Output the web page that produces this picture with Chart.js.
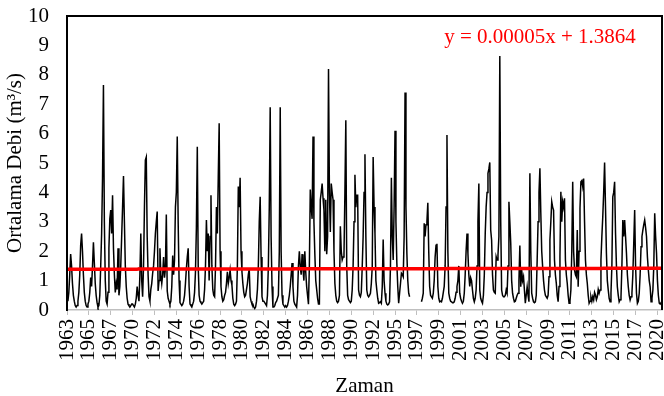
<!DOCTYPE html>
<html><head><meta charset="utf-8">
<script src="https://cdn.jsdelivr.net/npm/chart.js@4/dist/chart.umd.min.js"></script>
<style>html,body{margin:0;padding:0;background:#fff;}canvas{display:block;}</style>
</head><body>
<canvas id="c" width="664" height="396" style="width:664px;height:396px"></canvas>
<script>
// Tick labels (one every 24 data points)
const tickYears = ['1963','1965','1967','1970','1972','1974','1976','1978','1980','1982','1984','1986','1988','1990','1992','1995','1997','1999','2001','2003','2005','2007','2009','2011','2013','2015','2017','2020'];

// Mean discharge (m3/s), monthly, grouped by tick-label block
const d1963 = [0.5,0.3,0.6,1.2,1.9,1.5,0.9,0.5,0.3,0.15,0.1,0.15,0.3,0.6,1.2,2.2,2.6,2.0,1.2,0.6,0.3,0.15,0.1,0.2];
const d1965 = [0.3,0.6,1.1,0.8,1.5,2.3,1.6,0.9,0.5,0.25,0.1,0.15,0.5,1.5,2.6,4.5,7.65,3.0,1.0,0.3,0.2,0.6,2.1,3.1];
const d1967 = [3.4,2.6,3.9,2.1,1.2,0.6,0.9,0.7,2.1,0.5,0.8,1.5,2.5,3.5,4.56,3.0,1.5,0.8,0.4,0.2,0.15,0.1,0.15,0.2];
const d1970 = [0.2,0.15,0.1,0.2,0.4,0.8,0.5,0.3,1.2,2.6,1.0,0.45,1.5,3.5,5.1,5.2,2.5,1.2,0.45,0.3,0.7,0.9,1.25,1.5];
const d1972 = [2.0,2.6,3.0,3.35,0.65,1.0,2.1,1.2,0.9,1.2,1.8,1.1,1.4,3.25,0.65,0.4,0.3,0.2,0.3,0.8,1.85,1.2,1.7,3.5];
const d1974 = [4.0,5.9,3.0,1.0,0.25,0.2,0.15,0.2,0.3,0.5,0.9,1.4,1.8,2.1,0.8,0.2,0.15,0.1,0.2,0.3,0.6,1.3,2.8,5.55];
const d1976 = [1.5,0.5,0.3,0.25,0.2,0.25,0.3,0.7,1.5,3.06,2.0,2.6,1.0,2.5,3.9,1.5,0.7,0.5,0.45,1.5,3.5,2.6,4.5,6.35];
const d1978 = [2.0,0.8,0.45,0.3,0.35,0.5,0.6,0.9,1.3,0.9,1.1,1.36,1.0,0.85,0.4,0.2,0.15,0.2,0.3,1.5,4.2,3.5,4.5,2.0];
const d1980 = [1.3,0.9,0.6,0.45,0.5,0.7,0.9,1.2,1.4,0.45,0.3,0.2,0.2,0.1,0.05,0.1,0.3,0.7,1.5,3.0,3.85,1.8,0.45,0.3];
const d1982 = [0.3,0.25,0.2,0.15,0.5,1.5,3.5,6.9,2.5,0.8,0.1,0.1,0.15,0.25,0.3,0.4,0.5,2.0,6.9,2.0,0.5,0.2,0.15,0.1];
const d1984 = [0.15,0.1,0.15,0.3,0.5,0.8,1.2,1.6,0.8,0.3,0.2,0.15,0.1,0.5,1.5,2.0,1.47,1.2,1.9,1.4,1.0,2.0,1.3,0.8];
const d1986 = [0.5,0.2,1.5,4.1,3.5,3.1,5.9,3.0,1.9,1.0,0.7,0.4,0.2,0.2,3.75,4.0,4.3,3.8,3.4,2.0,3.75,1.9,2.5,8.2];
const d1988 = [4.0,2.65,4.3,4.0,3.75,2.0,0.9,0.5,0.3,0.25,0.3,0.5,2.85,2.0,1.7,1.8,1.9,4.0,6.45,1.5,0.5,0.35,0.3,0.25];
const d1990 = [0.3,0.68,1.5,3.0,4.6,3.5,3.9,3.9,0.68,0.5,0.45,0.6,1.47,2.5,4.0,5.3,2.5,0.68,0.5,0.45,0.5,0.57,0.9,1.47];
const d1992 = [5.2,3.5,2.6,1.0,0.68,0.4,0.23,0.25,0.28,0.23,0.8,2.4,1.0,0.57,0.3,0.2,0.17,0.2,0.28,1.5,4.5,2.5,1.7,3.5];
const d1995 = [6.1,3.0,1.6,0.8,0.23,0.57,0.9,1.25,1.2,1.13,2.5,7.4,3.5,1.93,1.0,0.57,0.45,null,null,null,null,null,null,null];
const d1997 = [null,null,null,null,null,0.28,0.4,0.57,2.95,2.5,2.9,3.0,3.65,2.0,0.8,0.5,0.45,0.4,0.57,1.0,1.8,2.2,2.25,0.8];
const d1999 = [0.4,0.28,0.3,0.28,0.4,0.6,0.8,1.5,3.5,5.95,2.0,0.57,0.4,0.3,0.28,0.25,0.25,0.28,0.4,0.6,0.8,1.0,1.5,0.57];
const d2001 = [0.4,0.3,0.23,0.3,0.57,1.2,2.0,2.6,1.93,1.2,0.8,1.1,1.0,0.68,0.4,0.28,0.4,0.68,1.5,3.0,4.3,0.68,0.4,0.3];
const d2003 = [0.23,0.5,1.2,2.6,3.5,4.0,4.65,4.8,5.02,2.72,2.38,1.2,0.68,0.6,0.57,1.81,1.7,1.87,2.5,8.64,3.0,0.68,0.5,0.45];
const d2005 = [0.45,0.5,0.68,0.57,1.5,3.68,3.0,2.27,1.0,0.57,0.4,0.28,0.3,0.4,0.5,0.57,1.0,2.19,0.79,1.36,1.0,1.13,0.68,0.23];
const d2007 = [0.51,0.79,0.5,0.28,4.65,2.0,0.57,0.4,0.28,0.25,0.28,0.5,1.7,3.0,4.0,4.82,3.29,2.0,1.47,1.0,0.68,0.5,0.45,0.4];
const d2009 = [0.5,1.13,2.38,3.0,3.68,3.5,3.4,1.7,1.2,0.91,0.5,0.28,0.8,1.81,4.02,3.0,3.68,3.5,3.8,1.7,1.2,0.91,0.5,0.23];
const d2011 = [0.3,0.68,2.0,4.36,2.0,1.36,1.2,1.13,2.72,0.79,2.0,3.46,4.36,4.4,4.2,4.47,3.0,1.7,1.2,0.91,0.5,0.23,0.3,0.45];
const d2013 = [0.3,0.45,0.34,0.6,0.51,0.35,0.45,0.7,0.57,0.68,1.7,2.5,3.17,4.0,5.02,3.5,1.93,1.0,0.68,0.4,0.28,0.57,1.5,3.85];
const d2015 = [4.0,4.36,2.61,1.5,0.79,0.5,0.28,0.35,0.45,1.5,3.06,2.5,3.06,2.5,1.93,1.2,0.79,0.5,0.34,0.45,0.57,1.2,2.27,3.4];
const d2017 = [1.5,0.57,0.23,0.3,0.57,1.2,2.15,2.5,2.72,2.9,3.06,2.8,2.5,1.8,1.36,1.0,0.79,0.28,0.4,0.68,1.5,3.29,2.5,1.93];
const d2020 = [1.0,0.5,0.23,0.2,0.25,0.3];

// Linear trend shown on the chart
const trendSlope = 0.00005;
const trendIntercept = 1.3864;
const trendText = 'y = 0.00005x + 1.3864';

const blocks = [d1963,d1965,d1967,d1970,d1972,d1974,d1976,d1978,d1980,d1982,d1984,d1986,d1988,d1990,d1992,d1995,d1997,d1999,d2001,d2003,d2005,d2007,d2009,d2011,d2013,d2015,d2017,d2020];
const labels = [], values = [];
blocks.forEach((b, k) => b.forEach(v => { labels.push(tickYears[k]); values.push(v); }));
const trend = values.map((_, i) => trendIntercept + trendSlope * (i + 1));

const FONT = 'Liberation Serif';
const framePlugin = {
  id: 'frame',
  afterDraw(chart) {
    const {ctx, chartArea: a} = chart;
    ctx.save();
    ctx.strokeStyle = '#000';
    ctx.lineWidth = 2;
    ctx.beginPath();
    ctx.moveTo(a.left, a.bottom);
    ctx.lineTo(a.left, a.top);
    ctx.lineTo(a.right, a.top);
    ctx.lineTo(a.right, a.bottom);
    ctx.stroke();
    ctx.fillStyle = '#FF0000';
    ctx.font = '21px "' + FONT + '"';
    ctx.textAlign = 'center';
    ctx.textBaseline = 'middle';
    ctx.fillText(trendText, 540, 37);
    ctx.restore();
  }
};

new Chart(document.getElementById('c'), {
  type: 'line',
  data: {
    labels: labels,
    datasets: [
      { data: trend, borderColor: '#FF0000', borderWidth: 3.5, pointRadius: 0, tension: 0 },
      { data: values, borderColor: '#000000', borderWidth: 1.5, pointRadius: 0, tension: 0, spanGaps: false }
    ]
  },
  options: {
    responsive: false,
    animation: false,
    devicePixelRatio: 1,
    layout: { padding: { top: 16, right: 2, left: 0, bottom: 0 } },
    plugins: { legend: { display: false }, tooltip: { enabled: false } },
    scales: {
      x: {
        type: 'category',
        offset: false,
        afterBuildTicks(s) { s.ticks = s.ticks.filter(t => t.value % 24 === 0); },
        afterFit(s) { s.height = 86; s.paddingLeft = 0; s.paddingRight = 0; },
        grid: { display: true, drawOnChartArea: false, drawTicks: true, tickLength: 5, color: '#BFBFBF', offset: false },
        border: { display: true, color: '#BFBFBF', width: 1.5 },
        ticks: {
          autoSkip: false, maxRotation: 90, minRotation: 90, padding: 4,
          color: '#000', font: { family: FONT, size: 21 },
          callback(v) { return this.getLabelForValue(v); }
        },
        title: { display: true, text: 'Zaman', color: '#000', font: { family: FONT, size: 21 }, padding: { top: 0, bottom: -3 } }
      },
      y: {
        min: 0, max: 10,
        afterFit(s) { s.width = 67; s.paddingTop = 0; s.paddingBottom = 0; },
        grid: { display: true, drawOnChartArea: false, drawTicks: false },
        border: { display: true, color: '#000', width: 2 },
        ticks: { stepSize: 1, padding: 18, color: '#000', font: { family: FONT, size: 21 } },
        title: { display: true, text: 'Ortalama Debi (m³/s)', color: '#000', font: { family: FONT, size: 21 }, padding: { top: 3, bottom: 0 } }
      }
    }
  },
  plugins: [framePlugin]
});
</script>
</body></html>
